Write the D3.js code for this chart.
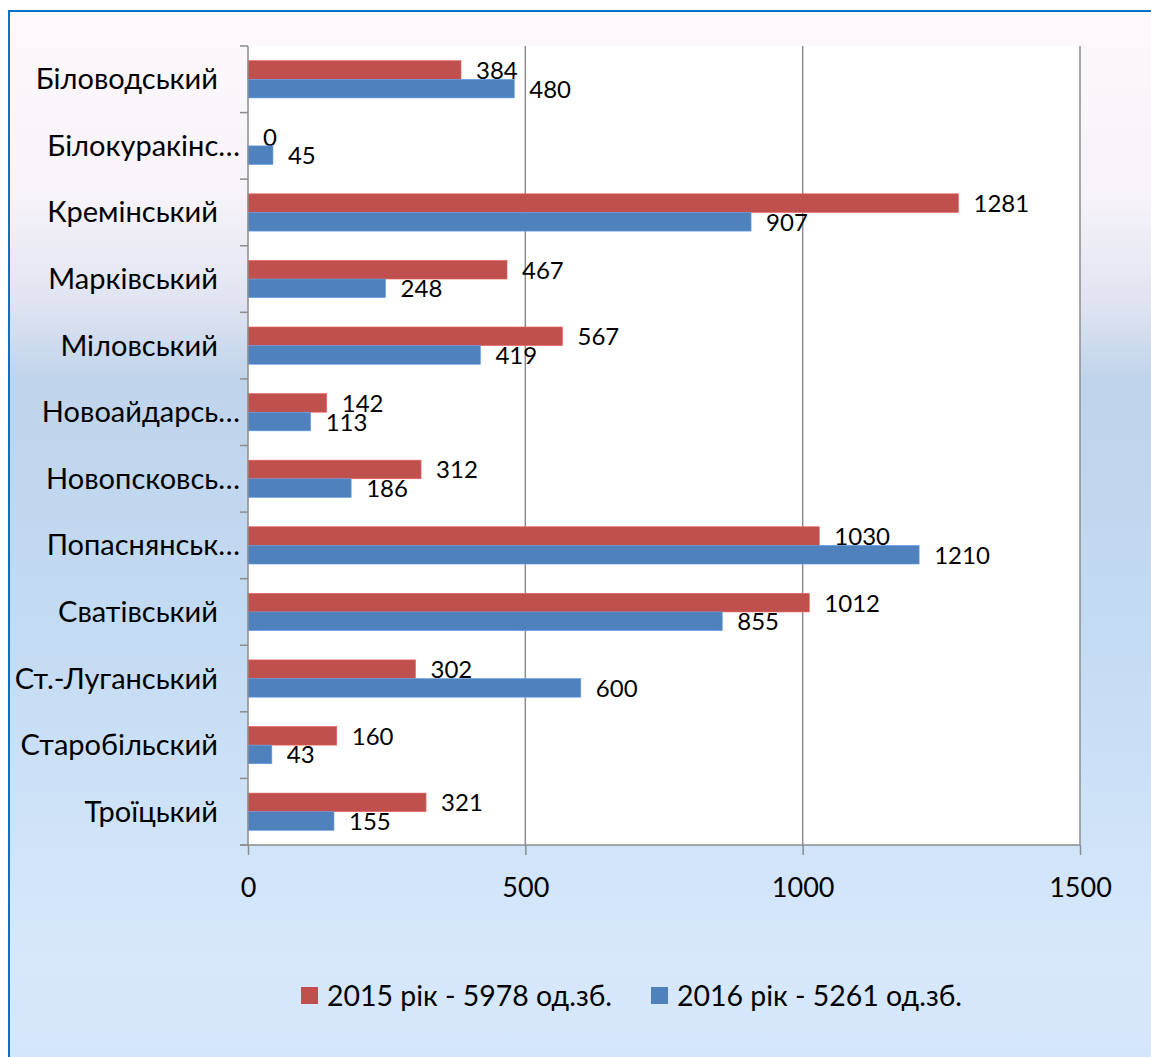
<!DOCTYPE html>
<html>
<head>
<meta charset="utf-8">
<script src="https://cdn.jsdelivr.net/npm/d3@7"></script>
<style>
  html, body { margin: 0; padding: 0; background: #fff; }
  #chart text { font-family: Lato, "Noto Sans", sans-serif; fill: #000; }
</style>
</head>
<body>
<div id="chart"></div>
<script>
// districts as shown on the axis (long ones are cut by the chart)
var categories = ["Біловодський", "Білокуракінс…", "Кремінський", "Марківський",
  "Міловський", "Новоайдарсь…", "Новопсковсь…", "Попаснянськ…",
  "Сватівський", "Ст.-Луганський", "Старобільский", "Троїцький"];

var values2015 = [384, 0, 1281, 467, 567, 142, 312, 1030, 1012, 302, 160, 321];
var values2016 = [480, 45, 907, 248, 419, 113, 186, 1210, 855, 600, 43, 155];

var seriesNames = ["2015 рік - 5978 од.зб.", "2016 рік - 5261 од.зб."];
var xTicks = [0, 500, 1000, 1500];

var colors = ["#c0504d", "#4f81bd"];

var width = 1151, height = 1057;
var plot = {left: 248, right: 1080, top: 46, bottom: 845};

var svg = d3.select("#chart").append("svg")
    .attr("width", width)
    .attr("height", height);

// background gradient of the chart area
var grad = svg.append("defs").append("linearGradient")
    .attr("id", "bg")
    .attr("x1", 0).attr("y1", 0).attr("x2", 0).attr("y2", 1);
[[0, "#fdf8fc"], [0.17, "#f7f3f9"], [0.27, "#e0e4f1"], [0.34, "#c0d4eb"],
 [0.56, "#c2daf2"], [0.88, "#d7e8fc"], [1, "#d4e6fb"]].forEach(function(s) {
  grad.append("stop").attr("offset", s[0]).attr("stop-color", s[1]);
});

svg.append("rect")
    .attr("x", 9).attr("y", 11)
    .attr("width", width + 20).attr("height", height + 20)
    .attr("fill", "url(#bg)")
    .attr("stroke", "#0a72c6")
    .attr("stroke-width", 2);

svg.append("rect")
    .attr("x", plot.left).attr("y", plot.top)
    .attr("width", plot.right - plot.left)
    .attr("height", plot.bottom - plot.top)
    .attr("fill", "#fff");

var x = d3.scaleLinear().domain([0, 1500]).range([plot.left, plot.right]);

var y = d3.scaleBand()
    .domain(categories)
    .range([plot.top, plot.bottom])
    .paddingInner(0.44)
    .paddingOuter(0.22);

var ySeries = d3.scaleBand()
    .domain([0, 1])
    .range([0, y.bandwidth()]);

var step = y.step();

// vertical grid lines
svg.append("g")
    .selectAll("line")
    .data(xTicks.slice(1))
    .enter().append("line")
    .attr("x1", function(d) { return x(d); })
    .attr("x2", function(d) { return x(d); })
    .attr("y1", plot.top)
    .attr("y2", plot.bottom)
    .attr("stroke", "#8c8c8c")
    .attr("stroke-width", 1.5);

// bars
var series = [values2015, values2016];
series.forEach(function(vals, si) {
  svg.append("g")
      .selectAll("rect")
      .data(vals)
      .enter().append("rect")
      .attr("x", x(0))
      .attr("y", function(d, i) { return y(categories[i]) + ySeries(si); })
      .attr("width", function(d) { return x(d) - x(0); })
      .attr("height", ySeries.bandwidth())
      .attr("fill", colors[si])
      .attr("stroke", d3.color(colors[si]).brighter(0.6))
      .attr("stroke-width", 0.6);

  svg.append("g")
      .selectAll("text")
      .data(vals)
      .enter().append("text")
      .attr("x", function(d) { return x(d) + 15; })
      .attr("y", function(d, i) { return y(categories[i]) + ySeries(si) + ySeries.bandwidth() / 2 + 9; })
      .style("font-size", "24px")
      .text(function(d) { return d; });
});

// y axis
var yAxis = svg.append("g");
yAxis.append("line")
    .attr("x1", plot.left).attr("x2", plot.left)
    .attr("y1", plot.top).attr("y2", plot.bottom)
    .attr("stroke", "#8c8c8c").attr("stroke-width", 1.5);
yAxis.selectAll("line.tick")
    .data(d3.range(categories.length + 1))
    .enter().append("line")
    .attr("class", "tick")
    .attr("x1", plot.left - 8).attr("x2", plot.left)
    .attr("y1", function(i) { return plot.top + i * step; })
    .attr("y2", function(i) { return plot.top + i * step; })
    .attr("stroke", "#8c8c8c").attr("stroke-width", 1.5);
yAxis.selectAll("text")
    .data(categories)
    .enter().append("text")
    .attr("x", function(d) { return d.slice(-1) === "…" ? 240 : 218; })
    .attr("y", function(d) { return y(d) + y.bandwidth() / 2 + 10; })
    .attr("text-anchor", "end")
    .style("font-size", "29px")
    .text(function(d) { return d; });

// x axis
var xAxis = d3.axisBottom(x)
    .tickValues(xTicks)
    .tickFormat(d3.format("d"))
    .tickSize(10)
    .tickSizeOuter(0)
    .tickPadding(23);

var gx = svg.append("g")
    .attr("transform", "translate(0," + plot.bottom + ")")
    .call(xAxis);
gx.select(".domain")
    .attr("d", "M" + (plot.left - 8) + ",0H" + plot.right)
    .attr("stroke", "#8c8c8c").attr("stroke-width", 1.5);
gx.selectAll(".tick line").attr("stroke", "#8c8c8c").attr("stroke-width", 1.5);
gx.selectAll(".tick text")
    .style("font-size", "27px")
    .attr("dy", "0.71em");

// legend
var legendX = [301, 651];
var legend = svg.append("g");
seriesNames.forEach(function(name, i) {
  legend.append("rect")
      .attr("x", legendX[i]).attr("y", 987)
      .attr("width", 17).attr("height", 17)
      .attr("fill", colors[i]);
  legend.append("text")
      .attr("x", legendX[i] + 26).attr("y", 1006)
      .attr("textLength", 285)
      .attr("lengthAdjust", "spacingAndGlyphs")
      .style("font-size", "29px")
      .text(name);
});
</script>
</body>
</html>
